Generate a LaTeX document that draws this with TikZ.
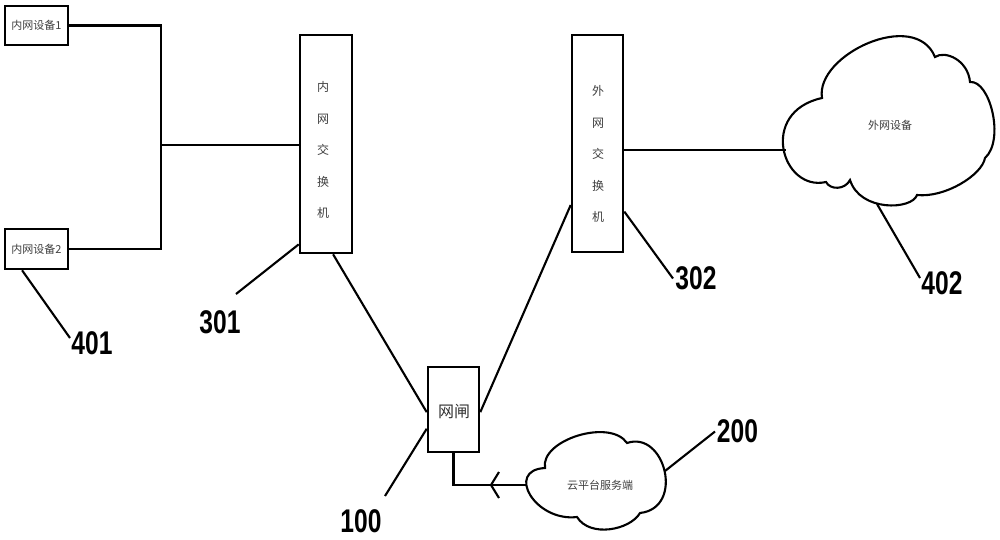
\documentclass[tikz,border=0pt]{standalone}
\usepackage{fontspec}
\setmainfont{Liberation Sans}
\newfontfamily\cjk{Noto Sans CJK SC}
\usetikzlibrary{calc}
\begin{document}
\begin{tikzpicture}[x=1pt,y=-1pt,
  box/.style={draw, line width=2.6pt, inner sep=0pt, fill=white},
  wire/.style={line width=2.1pt},
  cn/.style={font=\cjk\fontsize{11}{13}\selectfont, text=black!75},
  vt/.style={font=\cjk\fontsize{12}{31.5}\selectfont, text=black!75, align=center, inner sep=0pt},
  num/.style={font=\bfseries\fontsize{32.8}{34}\selectfont, inner sep=0pt}
]
\useasboundingbox (0,0) rectangle (1000,539);

% clouds
\draw[wire, fill=white] (850,180) .. controls (845,190) and (830,190) .. (826,182)
  .. controls (782,192) and (758,112) .. (822,98)
  .. controls (815,55) and (915,8) .. (935,57)
  .. controls (945,50) and (968,60) .. (970,82)
  .. controls (990,80) and (1005,140) .. (985,158)
  .. controls (982,175) and (945,198) .. (917,195)
  .. controls (912,210) and (860,212) .. (850,180) -- cycle;
\node[cn] (cl402) at (890,125) {外网设备};
\coordinate (c402w) at (786,150);
\coordinate (c402b) at (877,204);

\draw[wire, fill=white] (577,517) .. controls (535,522) and (505,470) .. (545,468)
  .. controls (540,440) and (610,418) .. (627,443)
  .. controls (665,430) and (685,508) .. (640,513)
  .. controls (630,530) and (590,538) .. (577,517) -- cycle;
\node[cn] (cl200) at (600,485) {云平台服务端};
\coordinate (c200w) at (527,485);
\coordinate (c200e) at (665,471);

% boxes
\node[box, minimum width=63pt, minimum height=39pt] (d1) at (36.5,25.5) {};
\node[cn] at (d1) {内网设备1};
\node[box, minimum width=63pt, minimum height=40pt] (d2) at (36.5,249) {};
\node[cn] at (d2) {内网设备2};
\node[box, minimum width=52pt, minimum height=218pt] (s301) at (326,144) {};
\node[vt] (t301) at (323,150) {内\\网\\交\\换\\机};
\node[box, minimum width=51pt, minimum height=217pt] (s302) at (597.5,143.5) {};
\node[vt] (t302) at (598,154) {外\\网\\交\\换\\机};
\node[box, minimum width=51pt, minimum height=85pt] (gw) at (453.5,409.5) {};
\node[font=\cjk\fontsize{16}{18}\selectfont, text=black!80] (tgw) at (454,412) {网闸};

% connectors
\coordinate (j) at (161,145);
\draw[wire] (d1.east) -| (j) |- (d2.east);
\draw[wire] (j) -- (s301.west |- j);
\draw[wire] (s302.east |- c402w) -- (c402w);
\draw[wire] ($(s301.south west)!0.63!(s301.south east)$) -- ($(gw.north west)!0.53!(gw.south west)$);
\draw[wire] ($(gw.north east)!0.53!(gw.south east)$) -- ($(s302.north west)!0.78!(s302.south west)$);
\draw[wire] (c200w) -| (gw.south);
\draw[wire] ($(c200w)+(-28,-13)$) -- ($(c200w)+(-36,0)$) -- ($(c200w)+(-28,13)$);

% labels
\node[num] (l401) at (92,343.5) {\scalebox{0.75}[1]{401}};
\node[num] (l301) at (220,322.5) {\scalebox{0.75}[1]{301}};
\node[num] (l302) at (696,278.5) {\scalebox{0.75}[1]{302}};
\node[num] (l402) at (942,283) {\scalebox{0.75}[1]{402}};
\node[num] (l100) at (361,521.5) {\scalebox{0.75}[1]{100}};
\node[num] (l200) at (737.5,431.5) {\scalebox{0.75}[1]{200}};

\draw[wire] ($(d2.south west)!0.28!(d2.south east)$) -- ($(l401)+(-22,-5.5)$);
\draw[wire] ($(s301.north west)!0.955!(s301.south west)$) -- ($(l301)+(16,-28.5)$);
\draw[wire] ($(s302.north east)!0.81!(s302.south east)$) -- ($(l302)+(-23,0)$);
\draw[wire] (c402b) -- ($(l402)+(-22,-5)$);
\draw[wire] ($(gw.north west)!0.72!(gw.south west)$) -- ($(l100)+(24,-25.5)$);
\draw[wire] (c200e) -- ($(l200)+(-22.5,0)$);
\end{tikzpicture}
\end{document}
